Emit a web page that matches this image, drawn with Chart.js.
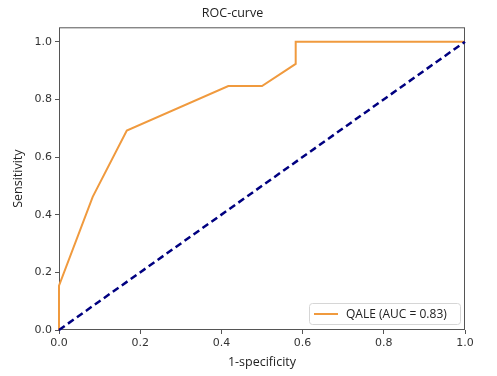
<!DOCTYPE html>
<html>
<head>
<meta charset="utf-8">
<script src="https://cdn.jsdelivr.net/npm/chart.js@4.4.0/dist/chart.umd.min.js"></script>
<style>
  html, body { margin: 0; padding: 0; background: #fff; }
  #wrap { width: 497px; height: 376px; }
</style>
</head>
<body>
<div id="wrap"><canvas id="roc"></canvas></div>
<script>
/* DATA */
const fpr = [0, 0, 0.083, 0.167, 0.417, 0.5, 0.583, 0.583, 1];
const tpr = [0, 0.154, 0.462, 0.692, 0.846, 0.846, 0.923, 1, 1];
const chanceX = [0, 1];
const chanceY = [0, 1];
const rocLabel = "QALE (AUC = 0.83)";
const xTicks = [0, 0.2, 0.4, 0.6, 0.8, 1.0];
const yTicks = [0, 0.2, 0.4, 0.6, 0.8, 1.0];

const ORANGE = "#f09a3e";
const NAVY = "#000080";
const AXIS = "#555";
const TEXT = "#222";

/* HELPERS */
const toPts = (xs, ys) => xs.map((x, i) => ({ x, y: ys[i] }));

/* PLUGINS */
const frame = {
  id: "frame",
  beforeDatasetsDraw(chart) {
    const a = chart.chartArea, c = chart.ctx;
    c.save();
    c.strokeStyle = AXIS;
    c.lineWidth = 1;
    c.strokeRect(a.left + 0.5, a.top + 0.5, a.right - a.left - 1, a.bottom - a.top - 1);
    c.restore();
  }
};

const innerLegend = {
  id: "innerLegend",
  afterDraw(chart) {
    const a = chart.chartArea, c = chart.ctx;
    const w = 151, h = 21;
    const x = a.right - 5 - w, y = a.bottom - 6 - h;
    c.save();
    c.fillStyle = "rgba(255,255,255,0.85)";
    c.strokeStyle = "#d6d6d6";
    c.lineWidth = 1;
    c.beginPath();
    c.roundRect(x + 0.5, y + 0.5, w, h, 3);
    c.fill();
    c.stroke();
    c.strokeStyle = ORANGE;
    c.lineWidth = 2;
    c.beginPath();
    c.moveTo(x + 5, y + h / 2 + 0.5);
    c.lineTo(x + 29, y + h / 2 + 0.5);
    c.stroke();
    c.fillStyle = TEXT;
    c.font = "12px 'Open Sans'";
    c.textBaseline = "middle";
    c.fillText(rocLabel, x + 37, y + h / 2 + 1);
    c.restore();
  }
};

/* CHART */
new Chart(document.getElementById("roc"), {
  type: "scatter",
  data: {
    datasets: [
      {
        label: rocLabel,
        data: toPts(fpr, tpr),
        showLine: true,
        borderColor: ORANGE,
        borderWidth: 2,
        pointRadius: 0,
        tension: 0,
        clip: 4,
        order: 2
      },
      {
        label: "chance",
        data: toPts(chanceX, chanceY),
        showLine: true,
        borderColor: NAVY,
        borderWidth: 2.5,
        borderDash: [7, 4],
        pointRadius: 0,
        clip: 4,
        order: 1
      }
    ]
  },
  options: {
    responsive: true,
    maintainAspectRatio: false,
    animation: false,
    layout: { padding: { left: 0, right: 32, top: 0, bottom: 0 } },
    plugins: {
      legend: { display: false },
      tooltip: { enabled: false },
      title: {
        display: true,
        text: "ROC-curve",
        color: TEXT,
        font: { family: "'Open Sans'", size: 12.5, weight: "normal" },
        padding: { top: 6, bottom: 6.3 }
      }
    },
    scales: {
      x: {
        type: "linear",
        min: 0,
        max: 1,
        afterFit: (s) => { s.height = 46; },
        afterBuildTicks: (s) => { s.ticks = xTicks.map((v) => ({ value: v })); },
        grid: { drawOnChartArea: false, drawTicks: true, tickLength: 4, color: AXIS },
        border: { display: false },
        ticks: {
          padding: 3,
          color: "#333",
          font: { family: "'DejaVu Sans'", size: 11 },
          maxRotation: 0,
          callback: (v) => v.toFixed(1)
        },
        title: {
          display: true,
          text: "1-specificity",
          color: TEXT,
          font: { family: "'Open Sans'", size: 12.5 },
          padding: { top: 0, bottom: 6 }
        }
      },
      y: {
        type: "linear",
        min: 0,
        max: 1.05,
        afterFit: (s) => { s.width = 59; },
        afterBuildTicks: (s) => { s.ticks = yTicks.map((v) => ({ value: v })); },
        grid: { drawOnChartArea: false, drawTicks: true, tickLength: 4, color: AXIS },
        border: { display: false },
        ticks: {
          padding: 3,
          color: "#333",
          font: { family: "'DejaVu Sans'", size: 11 },
          callback: (v) => v.toFixed(1)
        },
        title: {
          display: true,
          text: "Sensitivity",
          color: TEXT,
          font: { family: "'Open Sans'", size: 12.5 },
          padding: { top: 11, bottom: 0 }
        }
      }
    }
  },
  plugins: [frame, innerLegend]
});
</script>
</body>
</html>
